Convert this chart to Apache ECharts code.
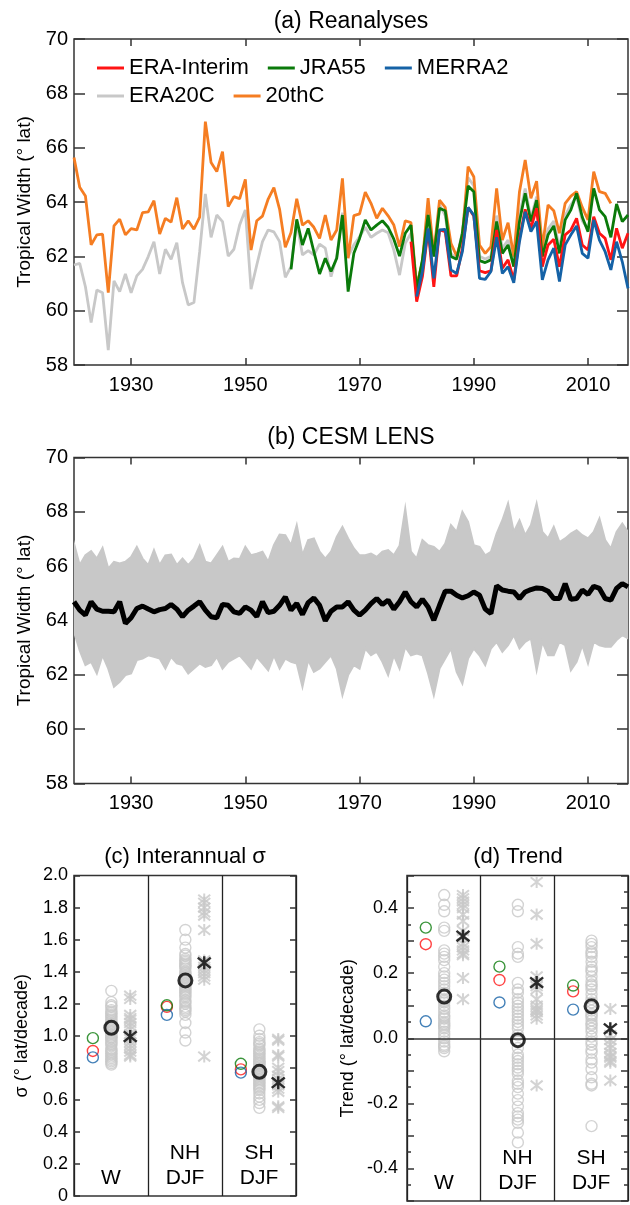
<!DOCTYPE html>
<html><head><meta charset="utf-8">
<script src="https://cdn.jsdelivr.net/npm/echarts@6/dist/echarts.min.js"></script>
<style>html,body{margin:0;padding:0;background:#fff}#c{width:630px;height:1205px}</style>
</head><body><div id="c"></div>
<script>
// ================= DATA =================
// Panel (a): reanalyses, tropical width (deg lat), annual values from start year
const start20thC = 1920;
const twentiethC = [65.64,64.54,64.22,62.42,62.79,62.82,60.66,63.12,63.37,62.79,
63.02,62.97,63.61,63.64,64.05,62.82,63.40,63.26,64.16,63.01,
63.31,63.00,63.44,66.96,65.45,65.12,65.85,63.83,64.20,64.12,
64.83,62.23,63.31,63.48,64.11,64.53,63.73,62.33,62.88,64.12,
63.15,63.31,63.07,62.66,63.52,62.60,62.97,64.87,61.93,63.50,
63.56,64.36,63.95,63.40,63.77,63.49,63.15,62.36,63.31,63.24,
60.90,61.80,64.14,62.10,64.07,63.80,62.48,62.01,62.72,65.30,
64.93,62.42,62.11,62.36,64.50,62.60,63.24,61.99,64.38,65.55,
64.14,64.77,62.30,63.89,63.68,62.85,63.95,64.22,64.38,63.80,
63.34,65.12,64.38,64.32,63.95];
const startERA20C = 1920;
const era20c = [61.68,61.74,60.88,59.56,60.76,60.66,58.55,61.10,60.70,61.35,
60.66,61.28,61.52,61.99,62.54,61.35,62.26,61.89,62.50,61.03,
60.21,60.30,62.17,64.30,62.70,63.52,63.28,62.01,62.26,63.15,
63.71,60.79,61.68,62.54,62.97,62.90,62.54,61.23,61.62,63.28,
62.05,62.21,62.05,62.45,62.30,61.25,61.99,63.61,61.99,62.42,
62.72,63.07,62.70,62.85,62.97,62.87,62.23,61.31,62.48,62.85,
60.90,61.80,63.60,62.00,63.90,63.50,62.10,61.90,62.90,64.90,
64.60,62.00,61.90,62.00,63.50,62.30,62.60,61.70,63.50,64.50,
63.40,64.20,62.10,63.00,63.30,62.30,63.50,63.90,64.20,63.30,
63.00];
const startJRA55 = 1958;
const jra55 = [61.52,63.36,62.42,63.03,62.17,61.35,61.93,61.44,61.93,63.52,
60.70,62.11,62.66,63.34,62.97,63.15,63.31,63.07,62.63,62.01,
62.85,63.15,60.76,61.87,63.52,61.99,63.77,63.68,61.99,61.89,
62.85,64.59,64.38,61.84,61.77,61.87,63.28,62.11,62.42,61.62,
63.28,64.32,63.28,64.07,61.99,62.79,63.12,62.11,63.34,63.71,
64.32,63.44,62.91,64.50,63.71,63.46,62.70,63.93,63.28,63.52];
const startERAI = 1979;
const eraInterim = [62.54,60.33,61.25,62.97,60.88,62.97,62.91,61.28,61.28,62.30,
63.80,63.49,61.47,61.40,61.47,62.97,61.56,61.87,61.13,62.66,
63.73,63.03,63.77,61.62,62.42,62.63,61.62,62.79,62.97,63.40,
62.42,62.23,63.46,62.85,62.66,61.87,63.03,62.30,62.85];
const startMERRA2 = 1980;
const merra2 = [60.52,61.44,63.03,61.19,62.97,62.99,61.50,61.37,62.17,63.80,
63.52,61.19,61.15,61.44,62.70,61.37,61.62,61.03,62.54,63.64,
62.91,63.28,61.13,61.87,62.30,61.07,62.42,62.79,63.12,62.11,
61.93,63.34,62.60,62.17,61.50,62.54,61.80,60.82];

// Panel (b): CESM LENS, 1920-2017: ensemble mean and ensemble spread (min / max of members)
const startLENS = 1920;
const lensMean = [64.69,64.38,64.20,64.69,64.42,64.34,64.34,64.32,64.69,63.89,
64.10,64.44,64.53,64.42,64.32,64.40,64.44,64.59,64.42,64.14,
64.38,64.53,64.69,64.38,64.14,64.10,64.59,64.56,64.32,64.26,
64.50,64.38,64.14,64.69,64.29,64.34,64.56,64.87,64.38,64.63,
64.22,64.66,64.83,64.56,63.99,64.34,64.50,64.50,64.69,64.38,
64.20,64.38,64.62,64.81,64.59,64.75,64.42,64.69,65.05,64.69,
64.50,64.78,64.50,64.01,64.56,65.08,65.08,64.93,64.83,64.91,
65.05,64.93,64.42,64.26,65.28,65.12,65.08,65.05,64.81,65.05,
65.14,65.20,65.18,65.08,64.81,64.81,65.36,64.78,64.81,65.12,
64.96,65.26,65.18,64.81,64.75,65.18,65.36,65.24];
const lensMax = [66.83,66.04,66.40,66.55,66.28,66.67,65.91,66.16,66.10,66.16,
66.34,66.71,66.28,66.04,66.59,66.04,66.40,66.43,66.04,66.28,
66.04,66.28,66.75,66.16,66.10,66.40,66.71,66.16,66.28,66.26,
66.71,66.40,66.46,66.53,66.16,66.77,67.16,67.14,66.77,67.51,
66.40,66.96,67.02,66.53,66.28,66.53,67.08,67.45,67.02,66.65,
66.40,66.40,66.46,66.34,66.53,66.59,66.40,66.75,68.12,66.53,
66.28,66.96,66.77,66.71,66.53,66.83,67.51,67.26,68.00,67.63,
66.77,66.71,66.40,66.53,67.20,67.69,68.31,67.26,67.69,67.14,
67.51,68.31,67.26,67.02,67.45,66.89,67.02,67.20,67.32,67.14,
67.02,67.26,67.75,66.96,66.65,67.26,67.57,67.26];
const lensMin = [63.58,62.90,62.36,62.48,62.05,62.72,62.23,61.56,61.74,61.99,
62.05,62.54,62.60,62.72,62.66,62.60,62.23,62.66,62.42,62.36,
62.05,62.23,62.42,62.29,62.36,62.66,62.23,62.48,62.60,62.72,
62.48,62.23,62.66,62.42,62.17,62.72,62.23,62.60,62.48,62.42,
61.56,62.54,62.11,62.23,62.48,62.72,62.23,61.25,61.99,62.36,
62.23,62.97,62.72,62.85,62.48,61.99,62.72,62.23,63.03,62.72,
62.78,62.72,62.05,61.25,62.23,62.60,62.97,62.11,61.68,62.60,
62.97,62.72,62.36,62.97,63.21,62.85,63.09,63.46,62.97,63.21,
63.34,62.17,63.21,62.72,62.72,63.21,63.09,62.17,62.48,63.09,
62.42,63.21,63.09,63.03,63.03,63.28,63.46,63.34];

// Tick labels
const timeTicks = [1930, 1950, 1970, 1990, 2010];
const regions = ['W', 'NH\nDJF', 'SH\nDJF'];

// Panel (c): interannual sigma, per region [W, NH DJF, SH DJF]
const sigmaERAI = [0.905, 1.18, 0.79];
const sigmaJRA55 = [0.985, 1.19, 0.825];
const sigmaMERRA2 = [0.865, 1.13, 0.77];
const sigmaLensW = [1.28,1.21,1.19,1.18,1.16,1.15,1.14,1.13,1.12,1.10,1.09,1.08,1.07,1.07,1.06,1.05,1.04,1.03,1.02,1.01,1.00,0.99,0.99,0.98,0.97,0.96,0.95,0.94,0.92,0.91,0.90,0.89,0.88,0.87,0.86,0.85,0.84,0.83,0.82,1.11];
const sigmaLensNH = [1.66,1.60,1.55,1.51,1.50,1.48,1.47,1.46,1.44,1.43,1.42,1.40,1.39,1.38,1.37,1.36,1.35,1.34,1.33,1.32,1.31,1.30,1.29,1.28,1.27,1.26,1.25,1.24,1.22,1.21,1.20,1.18,1.17,1.16,1.15,1.13,1.08,1.02,0.97,1.45];
const sigmaLensSH = [1.04,1.00,0.98,0.96,0.95,0.94,0.92,0.91,0.90,0.89,0.88,0.87,0.86,0.85,0.84,0.83,0.82,0.81,0.80,0.79,0.78,0.77,0.76,0.75,0.74,0.73,0.72,0.71,0.70,0.69,0.68,0.67,0.66,0.64,0.62,0.60,0.58,0.55,0.83,0.76];
const sigmaAstW = [1.25,1.23,1.13,1.11,1.10,1.08,1.06,1.04,1.01,0.98,0.96,0.94,0.92,0.90,0.88,0.87];
const sigmaAstNH = [1.85,1.83,1.80,1.77,1.75,1.66,1.47,1.45,1.43,1.41,1.39,1.37,1.35,0.87];
const sigmaAstSH = [0.98,0.97,0.88,0.87,0.80,0.78,0.75,0.73,0.71,0.69,0.67,0.65,0.56,0.55];
const sigmaLensMean = [1.05, 1.345, 0.775];
const sigmaAstMean = [0.995, 1.455, 0.707];

// Panel (d): trend, per region [W, NH DJF, SH DJF]
const trendERAI = [0.289, 0.179, 0.144];
const trendJRA55 = [0.34, 0.22, 0.162];
const trendMERRA2 = [0.052, 0.11, 0.088];
const trendLensW = [0.44,0.41,0.39,0.34,0.33,0.27,0.25,0.24,0.22,0.20,0.19,0.18,0.17,0.16,0.15,0.14,0.13,0.12,0.11,0.10,0.09,0.08,0.07,0.065,0.06,0.05,0.045,0.04,0.035,0.03,0.02,0.01,0.0,-0.01,-0.02,-0.025,-0.03,-0.04,0.26,0.115];
const trendLensNH = [0.41,0.39,0.28,0.26,0.25,0.17,0.15,0.14,0.12,0.11,0.10,0.09,0.08,0.07,0.06,0.05,0.04,0.03,0.01,-0.01,-0.03,-0.05,-0.06,-0.07,-0.08,-0.09,-0.10,-0.11,-0.13,-0.14,-0.15,-0.17,-0.19,-0.21,-0.23,-0.24,-0.25,-0.26,-0.29,-0.32];
const trendLensSH = [0.30,0.29,0.28,0.265,0.25,0.235,0.22,0.205,0.19,0.175,0.165,0.15,0.135,0.12,0.11,0.095,0.085,0.075,0.065,0.055,0.045,0.03,0.02,0.005,-0.01,-0.02,-0.035,-0.045,-0.065,-0.075,-0.095,-0.12,-0.14,-0.145,-0.27,0.26,0.21,0.16,0.07,0.04];
const trendAstW = [0.44,0.43,0.42,0.41,0.40,0.38,0.36,0.33,0.31,0.29,0.28,0.27,0.26,0.255,0.185,0.12];
const trendAstNH = [0.48,0.38,0.29,0.19,0.17,0.16,0.15,0.12,0.10,0.09,0.085,0.08,0.07,0.06,-0.145];
const trendAstSH = [0.09,0.03,0.01,-0.005,-0.02,-0.03,-0.045,-0.055,-0.06,-0.07,-0.075,-0.13];
const trendLensMean = [0.128, -0.006, 0.098];
const trendAstMean = [0.314, 0.171, 0.029];

// ================= CHART =================
const FONT = '"Liberation Sans", Arial, Helvetica, sans-serif';
const C = {red:'#ff1414', green:'#0a7a0a', blue:'#1562a6', orange:'#f57d22', gray:'#c8c8c8', axis:'#333'};
const OFF = {re:0.255, lens:0.505, ast:0.76};   // slot offsets inside each region
const AST = 'path://M5,0L5,10M1,1L9,9M1,9L9,1';

const pairs = (start, vals) => vals.map((v, i) => [start + i, v]);
const slot = (vals, off) => vals.map((v, r) => [r + off, v]);
const col = (arrs, off) => arrs.flatMap((a, r) => a.map(v => [r + off, v]));

const tickLine = {color: C.axis, width: 1.5};
function timeX(grid, pos, labels) {
  return {type:'value', gridIndex:grid, position:pos, min:1920, max:2017,
    axisLine:{show:false}, splitLine:{show:false},
    axisTick:{show:true, inside:true, length:7, customValues:timeTicks, lineStyle:tickLine},
    axisLabel:{show:labels, customValues:timeTicks, fontSize:20, color:'#000', fontFamily:FONT, margin:10,
      formatter: v => String(v)}};
}
function widthY(grid, pos, labels) {
  return {type:'value', gridIndex:grid, position:pos, min:58, max:70, interval:2,
    axisLine:{show:false}, splitLine:{show:false},
    axisTick:{show:true, inside:true, length:11, lineStyle:tickLine},
    axisLabel:{show:labels, fontSize:20, color:'#000', fontFamily:FONT, margin:6},
    name: labels ? 'Tropical Width (° lat)' : '', nameLocation:'middle', nameGap:40,
    nameTextStyle:{fontSize:19, color:'#000', fontFamily:FONT}};
}
function catX(grid) {
  return {type:'category', gridIndex:grid, position:'bottom', data:regions, boundaryGap:true,
    axisLine:{show:false}, axisTick:{show:false},
    axisLabel:{inside:true, interval:0, fontSize:21, lineHeight:25, color:'#000', fontFamily:FONT, margin:5},
    splitLine:{show:true, interval:0, lineStyle:{color:'#222', width:1.3}}};
}
const posX = grid => ({type:'value', gridIndex:grid, position:'top', min:0, max:3, show:false});

const grids = [
  {left:74, top:39, width:554, height:326},
  {left:74, top:457.5, width:554, height:326},
  {left:74, top:875.5, width:222, height:325.5},
  {left:407, top:875.5, width:221, height:325.5}
].map(g => Object.assign(g, {show:true, borderColor:C.axis, borderWidth:1.5, backgroundColor:'transparent'}));

const xAxis = [timeX(0,'bottom',true), timeX(0,'top',false), timeX(1,'bottom',true), timeX(1,'top',false),
  catX(2), posX(2), catX(3), posX(3)];

const sigmaY = (pos, labels) => ({type:'value', gridIndex:2, position:pos, min:0, max:2, interval:0.2,
  axisLine:{show:false}, splitLine:{show:false},
  axisTick:{show:true, inside:true, length:6, lineStyle:tickLine},
  axisLabel:{show:labels, fontSize:18, color:'#000', fontFamily:FONT, margin:6,
    formatter: v => Math.abs(v) < 1e-9 ? '0' : v.toFixed(1)},
  name: labels ? 'σ (° lat/decade)' : '', nameLocation:'middle', nameGap:43,
  nameTextStyle:{fontSize:18, color:'#000', fontFamily:FONT}});
const trendY = (pos, labels) => ({type:'value', gridIndex:3, position:pos, min:-0.5, max:0.5, interval:0.1,
  axisLine:{show:false}, splitLine:{show:false},
  axisTick:{show:true, inside:true, length:7, lineStyle:tickLine},
  minorTick:{show:true, splitNumber:2, length:4, lineStyle:tickLine},
  axisLabel:{show:labels, fontSize:18, color:'#000', fontFamily:FONT, margin:9,
    formatter: v => { const k = Math.round(v * 10); return (k % 2 === 0 && Math.abs(k) < 5) ? (k / 10).toFixed(1) : ''; }},
  name: labels ? 'Trend (° lat/decade)' : '', nameLocation:'middle', nameGap:50,
  nameTextStyle:{fontSize:18, color:'#000', fontFamily:FONT}});

const yAxis = [widthY(0,'left',true), widthY(0,'right',false), widthY(1,'left',true), widthY(1,'right',false),
  sigmaY('left',true), sigmaY('right',false), trendY('left',true), trendY('right',false)];

const line = (name, data, color, w) => ({type:'line', name, data, xAxisIndex:0, yAxisIndex:0,
  symbol:'none', lineStyle:{color, width:w}, itemStyle:{color}, z:3});

const circ = (data, color, size, bw, xi, yi, z) => ({type:'scatter', data, xAxisIndex:xi, yAxisIndex:yi,
  symbol:'circle', symbolSize:size, itemStyle:{color:'rgba(0,0,0,0)', borderColor:color, borderWidth:bw}, z, silent:true});
const star = (data, color, size, bw, xi, yi, z) => ({type:'scatter', data, xAxisIndex:xi, yAxisIndex:yi,
  symbol:AST, symbolSize:size, itemStyle:{color:'rgba(0,0,0,0)', borderColor:color, borderWidth:bw}, z, silent:true});

function panelSeries(xi, yi, lens, ast, lensMeanV, astMeanV, e, j, m) {
  return [
    circ(col(lens, OFF.lens), C.gray, 11, 1.4, xi, yi, 3),
    star(col(ast, OFF.ast), C.gray, 12, 2, xi, yi, 3),
    circ(slot(e, OFF.re), C.red, 11, 1.4, xi, yi, 4),
    circ(slot(j, OFF.re), C.green, 11, 1.4, xi, yi, 4),
    circ(slot(m, OFF.re), C.blue, 11, 1.4, xi, yi, 4),
    circ(slot(lensMeanV, OFF.lens), '#000', 13, 3, xi, yi, 5),
    star(slot(astMeanV, OFF.ast), '#000', 13, 2.4, xi, yi, 5)
  ];
}

// LENS ensemble spread band, drawn as one polygon through the axis scales
const bandRows = lensMin.map((v, i) => [startLENS + i, v, lensMax[i]]);
const bandSeries = {
  type:'custom', xAxisIndex:2, yAxisIndex:2, data:bandRows, encode:{x:0, y:[1, 2]}, clip:true, silent:true, z:2,
  renderItem: (params, api) => {
    if (params.dataIndex !== 0) return null;
    const top = bandRows.map(r => api.coord([r[0], r[2]]));
    const bot = bandRows.map(r => api.coord([r[0], r[1]])).reverse();
    return {type:'polygon', shape:{points: top.concat(bot)},
      style:{fill:C.gray, stroke:C.gray, lineWidth:2, lineJoin:'miter'}};
  }
};

const series = [
  line('ERA20C', pairs(startERA20C, era20c), C.gray, 2.8),
  line('20thC', pairs(start20thC, twentiethC), C.orange, 2.8),
  line('JRA55', pairs(startJRA55, jra55), C.green, 2.8),
  line('ERA-Interim', pairs(startERAI, eraInterim), C.red, 2.8),
  line('MERRA2', pairs(startMERRA2, merra2), C.blue, 2.8),
  bandSeries,
  {type:'line', data:pairs(startLENS, lensMean), xAxisIndex:2, yAxisIndex:2, symbol:'none',
    lineStyle:{color:'#000', width:5}, silent:true, z:4},
  ...panelSeries(5, 4, [sigmaLensW, sigmaLensNH, sigmaLensSH], [sigmaAstW, sigmaAstNH, sigmaAstSH],
     sigmaLensMean, sigmaAstMean, sigmaERAI, sigmaJRA55, sigmaMERRA2),
  ...panelSeries(7, 6, [trendLensW, trendLensNH, trendLensSH], [trendAstW, trendAstNH, trendAstSH],
     trendLensMean, trendAstMean, trendERAI, trendJRA55, trendMERRA2)
];
// zero line in (d)
series.push({type:'line', data:[], xAxisIndex:7, yAxisIndex:6, silent:true,
  markLine:{silent:true, symbol:'none', label:{show:false}, animation:false,
    lineStyle:{color:C.axis, width:1.5, type:'solid'}, data:[{yAxis:0}]}});

const legendBase = {left:97, padding:0, itemWidth:27, itemHeight:3, itemGap:19, icon:'rect', selectedMode:false,
  textStyle:{fontSize:22, color:'#000', fontFamily:FONT}};

const titleText = (text, x, y, size) => ({type:'text', x, y, silent:true,
  style:{text, fontSize:size, fontFamily:FONT, fill:'#000', align:'center', verticalAlign:'middle'}});

const chart = echarts.init(document.getElementById('c'), null, {renderer:'canvas'});
chart.setOption({
  animation:false,
  backgroundColor:'#fff',
  grid:grids, xAxis, yAxis, series,
  legend:[
    Object.assign({}, legendBase, {top:57, data:['ERA-Interim','JRA55','MERRA2']}),
    Object.assign({}, legendBase, {top:85, data:['ERA20C','20thC']})
  ],
  graphic:[
    titleText('(a) Reanalyses', 351, 22, 23),
    titleText('(b) CESM LENS', 351, 438, 23),
    titleText('(c) Interannual σ', 185, 857, 22),
    titleText('(d) Trend', 518, 857, 22)
  ]
});
</script></body></html>
